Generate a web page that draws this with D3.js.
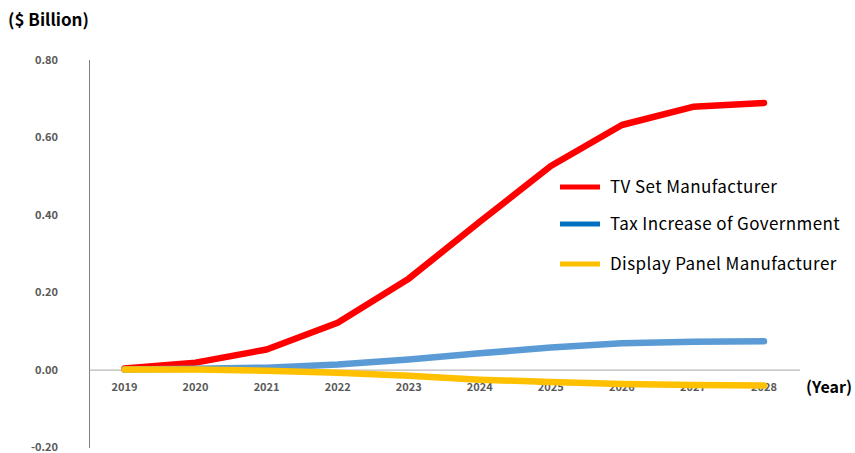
<!DOCTYPE html>
<html>
<head>
<meta charset="utf-8">
<script src="https://cdn.jsdelivr.net/npm/d3@7"></script>
<style>
  body { margin: 0; background: #fff; }
  text { font-family: "Noto Sans CJK KR", "Noto Sans", sans-serif; }
</style>
</head>
<body>
<svg id="chart" width="855" height="453"></svg>
<script>
// data ($ billion)
var years = ["2019","2020","2021","2022","2023","2024","2025","2026","2027","2028"];
var tvSet = [0.003, 0.018, 0.052, 0.121, 0.235, 0.382, 0.526, 0.632, 0.679, 0.689];
var taxGov = [0.000, 0.002, 0.005, 0.013, 0.026, 0.042, 0.057, 0.068, 0.072, 0.073];
var panel = [0.000, 0.000, -0.003, -0.008, -0.016, -0.026, -0.032, -0.037, -0.040, -0.041];
var yTicks = [-0.20, 0.00, 0.20, 0.40, 0.60, 0.80];
var seriesNames = ["TV Set Manufacturer", "Tax Increase of Government", "Display Panel Manufacturer"];
var lineColors = ["#ff0000", "#5b9bd5", "#ffc000"];
var legendColors = ["#ff0000", "#0070c0", "#ffc000"];

var svg = d3.select("#chart");

// scales
var x = d3.scalePoint().domain(years).range([124.5, 764]);
var y = d3.scaleLinear().domain([-0.2, 0.8]).range([447, 60]);

// y axis line + labels
svg.append("line")
   .attr("x1", 89.5).attr("x2", 89.5)
   .attr("y1", y(0.8)).attr("y2", y(-0.2) + 1)
   .attr("stroke", "#7f7f7f").attr("stroke-width", 1);

svg.selectAll(".ytick").data(yTicks).enter().append("text")
   .attr("class", "ytick")
   .attr("x", 58).attr("y", function(d) { return y(d) + 4; })
   .attr("text-anchor", "end")
   .attr("font-size", 11).attr("font-weight", "bold")
   .attr("fill", "#595959")
   .text(function(d) { return d.toFixed(2); });

// zero line
svg.append("line")
   .attr("x1", 89).attr("x2", 800)
   .attr("y1", y(0) + 0.5).attr("y2", y(0) + 0.5)
   .attr("stroke", "#a6a6a6").attr("stroke-width", 1);

// x labels
svg.selectAll(".xtick").data(years).enter().append("text")
   .attr("class", "xtick")
   .attr("x", function(d) { return x(d); }).attr("y", 391)
   .attr("text-anchor", "middle")
   .attr("font-size", 11).attr("font-weight", "bold")
   .attr("fill", "#595959")
   .text(function(d) { return d; });

// axis titles
svg.append("text").attr("x", 8).attr("y", 26)
   .attr("font-size", 17).attr("font-weight", "bold").attr("fill", "#000")
   .text("($ Billion)");
svg.append("text").attr("x", 806).attr("y", 393)
   .attr("font-size", 16).attr("font-weight", "bold").attr("fill", "#000")
   .text("(Year)");

// lines
var line = d3.line()
   .x(function(d, i) { return x(years[i]); })
   .y(function(d) { return y(d); });

[tvSet, taxGov, panel].forEach(function(vals, i) {
   svg.append("path")
      .datum(vals)
      .attr("d", line)
      .attr("fill", "none")
      .attr("stroke", lineColors[i])
      .attr("stroke-width", 6.5)
      .attr("stroke-linecap", "round")
      .attr("stroke-linejoin", "round");
});

// legend
var legend = svg.selectAll(".legend").data(seriesNames).enter().append("g")
   .attr("class", "legend")
   .attr("transform", function(d, i) { return "translate(560," + [187, 224, 264][i] + ")"; });

legend.append("line")
   .attr("x1", 0).attr("x2", 40).attr("y1", 0).attr("y2", 0)
   .attr("stroke", function(d, i) { return legendColors[i]; })
   .attr("stroke-width", 5);

legend.append("text")
   .attr("x", 50).attr("y", 6)
   .attr("font-size", 17).attr("letter-spacing", 0.4).attr("fill", "#000")
   .text(function(d) { return d; });
</script>
</body>
</html>
